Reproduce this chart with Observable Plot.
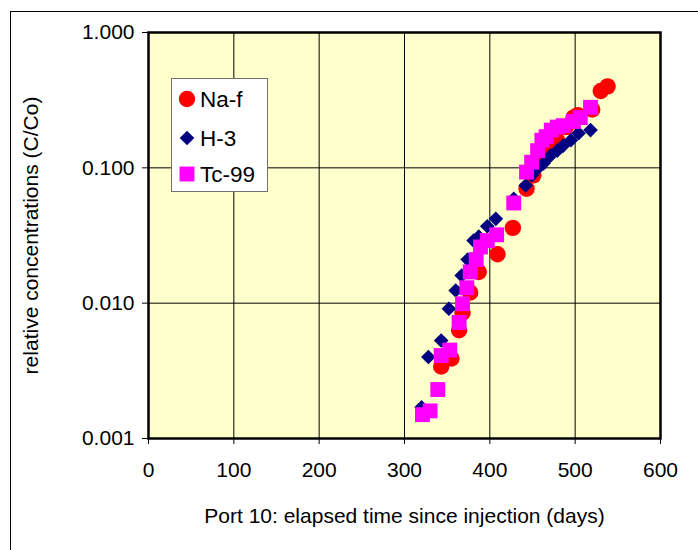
<!DOCTYPE html>
<html>
<head>
<meta charset="utf-8">
<script src="https://cdn.jsdelivr.net/npm/d3@7"></script>
<script src="https://cdn.jsdelivr.net/npm/@observablehq/plot@0.6"></script>
<style>
  html, body { margin: 0; padding: 0; background: #fff; }
  #wrap { position: relative; width: 698px; height: 550px; overflow: hidden; font-family: "Liberation Sans", Arial, sans-serif; }
  #outer { position: absolute; left: 10px; top: 11px; width: 800px; height: 700px; border-left: 1px solid #000; border-top: 1px solid #000; }
  #chart { position: absolute; left: 0; top: 0; }
  #legend { position: absolute; left: 171px; top: 78px; width: 95px; height: 112px; background: #fff; border: 1px solid #707070; }
</style>
</head>
<body>
<div id="wrap">
  <div id="outer"></div>
  <div id="chart"></div>
  <div id="legend"></div>
</div>
<script>
// ---- data ----
const seriesNames = ["Na-f", "H-3", "Tc-99"];
const seriesColors = ["#FF0000", "#000080", "#FF00FF"];
const seriesSymbols = ["circle", "diamond2", "square"];

const xTicks = [0, 100, 200, 300, 400, 500, 600];
const yTicks = [0.001, 0.01, 0.1, 1];

const naDays = [343, 355, 364, 368, 377, 387, 409, 427, 443, 451, 459, 469, 479, 489, 498, 503, 520, 530, 538];
const naVals = [0.0034, 0.0039, 0.0063, 0.0085, 0.012, 0.017, 0.023, 0.036, 0.07, 0.088, 0.11, 0.134, 0.159, 0.2, 0.235, 0.245, 0.27, 0.37, 0.40];

const h3Days = [320, 328, 343, 352, 360, 367, 374, 381, 387, 397, 407, 428, 442, 449, 456, 463, 471, 479, 486, 495, 504, 518];
const h3Vals = [0.0017, 0.0040, 0.0053, 0.0091, 0.0124, 0.016, 0.021, 0.029, 0.031, 0.037, 0.042, 0.059, 0.074, 0.088, 0.099, 0.108, 0.123, 0.134, 0.146, 0.16, 0.18, 0.19];

const tcDays = [321, 330, 339, 343, 353, 364, 368, 373, 377, 384, 389, 397, 408, 428, 443, 449, 456, 461, 466, 472, 479, 486, 498, 506, 518];
const tcVals = [0.0015, 0.0016, 0.0023, 0.0041, 0.0045, 0.0072, 0.0099, 0.013, 0.017, 0.021, 0.026, 0.029, 0.032, 0.055, 0.093, 0.11, 0.134, 0.16, 0.17, 0.19, 0.2, 0.205, 0.22, 0.235, 0.28];

const toRows = (days, vals) => days.map((d, i) => ({day: d, c: vals[i]}));
const naRows = toRows(naDays, naVals);
const h3Rows = toRows(h3Days, h3Vals);
const tcRows = toRows(tcDays, tcVals);

const FONT = "Liberation Sans, Arial, sans-serif";

const chart = Plot.plot({
  width: 698,
  height: 550,
  marginLeft: 148,
  marginRight: 38,
  marginTop: 32,
  marginBottom: 112,
  style: {fontFamily: FONT, fontSize: "21px", background: "transparent", color: "#000", overflow: "visible"},
  x: {domain: [0, 600]},
  y: {type: "log", domain: [0.001, 1]},
  marks: [
    Plot.frame({fill: "#FFFFCC", stroke: null}),
    Plot.gridX(xTicks, {stroke: "#000", strokeOpacity: 1, strokeWidth: 1}),
    Plot.gridY(yTicks, {stroke: "#000", strokeOpacity: 1, strokeWidth: 1}),
    Plot.frame({stroke: "#000", strokeWidth: 2.5, fill: null}),
    Plot.dot(naRows, {x: "day", y: "c", symbol: seriesSymbols[0], r: 8.2, fill: seriesColors[0], stroke: null}),
    Plot.dot(h3Rows, {x: "day", y: "c", symbol: seriesSymbols[1], r: 6.6, fill: seriesColors[1], stroke: null}),
    Plot.dot(tcRows, {x: "day", y: "c", symbol: seriesSymbols[2], r: 8.4, fill: seriesColors[2], stroke: null}),
    Plot.axisX({ticks: xTicks, tickSize: 6, tickPadding: 18, fontSize: 21,
      label: "Port 10: elapsed time since injection (days)", labelAnchor: "center", labelArrow: "none", labelOffset: 84}),
    Plot.axisY({ticks: yTicks, tickSize: 6, tickPadding: 8, fontSize: 21, tickFormat: d3.format(".3f"),
      label: "relative concentrations (C/Co)", labelAnchor: "center", labelArrow: "none", labelOffset: 125})
  ]
});
document.getElementById("chart").appendChild(chart);

// ---- legend ----
const lg = d3.select("#legend").append("svg").attr("width", 95).attr("height", 112)
  .style("position", "absolute").style("left", 0).style("top", 0);
const symMap = {circle: d3.symbolCircle, diamond2: d3.symbolDiamond2, square: d3.symbolSquare};
const symR = [8.2, 6.6, 8.4];
const rowY = [20, 59, 95];
seriesNames.forEach((name, i) => {
  const g = lg.append("g").attr("transform", `translate(15,${rowY[i]})`);
  g.append("path").attr("d", d3.symbol(symMap[seriesSymbols[i]], Math.PI * symR[i] * symR[i])()).attr("fill", seriesColors[i]);
  g.append("text").attr("x", 13).attr("y", 0).attr("dy", "0.36em")
    .attr("font-family", FONT).attr("font-size", 22.5).attr("fill", "#000").text(name);
});
</script>
</body>
</html>
